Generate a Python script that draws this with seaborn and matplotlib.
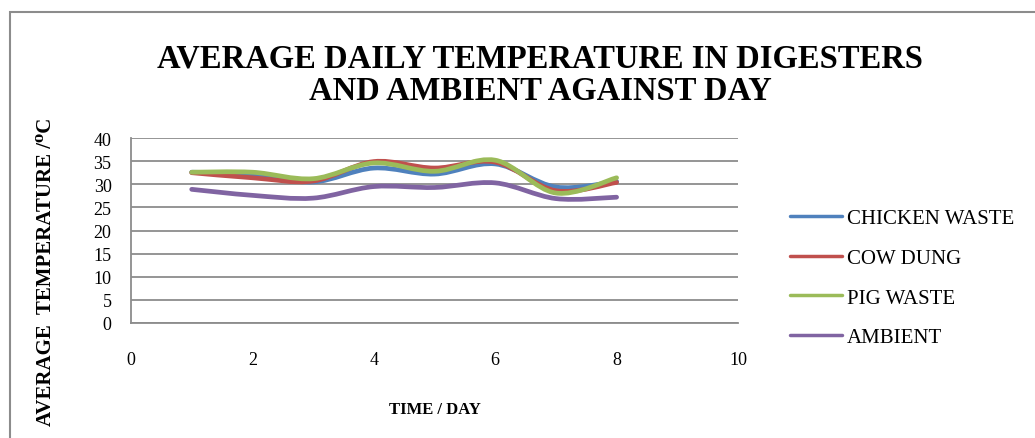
import numpy as np
import pandas as pd
import matplotlib
matplotlib.use("Agg")
import matplotlib.pyplot as plt
import seaborn as sns
from matplotlib.path import Path
from matplotlib.patches import PathPatch, Rectangle
from matplotlib.lines import Line2D

# data
days = [1, 2, 3, 4, 5, 6, 7, 8]
chicken_waste = [32.6, 32.2, 30.5, 33.5, 32.2, 34.4, 29.4, 30.6]
cow_dung = [32.5, 31.4, 30.7, 34.9, 33.5, 34.8, 28.6, 30.4]
pig_waste = [32.6, 32.6, 31.2, 34.6, 32.8, 35.2, 28.1, 31.4]
ambient = [28.9, 27.6, 27.0, 29.5, 29.3, 30.3, 26.9, 27.2]

series_names = ["CHICKEN WASTE", "COW DUNG", "PIG WASTE", "AMBIENT"]
series_values = [chicken_waste, cow_dung, pig_waste, ambient]
colors = ["#4F81BD", "#C0504D", "#9BBB59", "#8064A2"]

x_ticks = [0, 2, 4, 6, 8, 10]
y_ticks = [0, 5, 10, 15, 20, 25, 30, 35, 40]


def smooth_path(x, y):
    """Excel-style smoothed line: cubic bezier through the points."""
    x = np.asarray(x, float)
    y = np.asarray(y, float)
    n = len(x)
    verts = [(x[0], y[0])]
    codes = [Path.MOVETO]
    for i in range(n - 1):
        x0, y0 = (x[i - 1], y[i - 1]) if i > 0 else (x[i], y[i])
        x3, y3 = (x[i + 2], y[i + 2]) if i + 2 < n else (x[i + 1], y[i + 1])
        c1 = (x[i] + (x[i + 1] - x0) / 6, y[i] + (y[i + 1] - y0) / 6)
        c2 = (x[i + 1] - (x3 - x[i]) / 6, y[i + 1] - (y3 - y[i]) / 6)
        verts += [c1, c2, (x[i + 1], y[i + 1])]
        codes += [Path.CURVE4] * 3
    return Path(verts, codes)


sns.set_style("white")
plt.rcParams["font.family"] = ["Liberation Serif", "DejaVu Serif"]
plt.rcParams["text.color"] = "black"
plt.rcParams["axes.labelcolor"] = "black"

fig = plt.figure(figsize=(10.35, 4.39), dpi=100)
ax = fig.add_axes([131 / 1035, 1 - 324 / 439, (738 - 131) / 1035, (324 - 139) / 439])

# outer chart border (only top/left visible in the crop)
fig.patches.append(Rectangle((10 / 1035, -0.1), 1.2, 1 - 13 / 439 + 0.1,
                             transform=fig.transFigure, fill=False,
                             edgecolor="#8c8c8c", linewidth=1.5))

df = pd.DataFrame({"day": days})
for name, vals in zip(series_names, series_values):
    df[name] = vals

for name, color in zip(series_names, colors):
    patch = PathPatch(smooth_path(df["day"], df[name]), facecolor="none",
                      edgecolor=color, linewidth=3.4, capstyle="round",
                      joinstyle="round")
    ax.add_patch(patch)

ax.set_xlim(0, 10)
ax.set_ylim(0, 40)
ax.set_xticks(x_ticks)
ax.set_yticks(y_ticks)
ax.tick_params(axis="both", length=0, labelsize=13, colors="black")
ax.tick_params(axis="x", pad=20)
ax.tick_params(axis="y", pad=14)
ax.yaxis.grid(True, color="#8c8c8c", linewidth=1.3)
ax.xaxis.grid(False)
for side in ["top", "right"]:
    ax.spines[side].set_visible(False)
for side in ["left", "bottom"]:
    ax.spines[side].set_color("#8c8c8c")
    ax.spines[side].set_linewidth(1.3)

ax.set_xlabel("TIME / DAY", fontsize=12, fontweight="bold")
ax.xaxis.set_label_coords(0.5, -0.42)
ax.set_ylabel("AVERAGE  TEMPERATURE /\u2070C", fontsize=15, fontweight="bold")
ax.yaxis.set_label_coords(-0.124, 0.28)

fig.text(540 / 1035, 1 - 75 / 439, "AVERAGE DAILY TEMPERATURE IN DIGESTERS\nAND AMBIENT AGAINST DAY",
         ha="center", va="center", fontsize=23.5, fontweight="bold", linespacing=1.05)

handles = [Line2D([], [], color=c, linewidth=2.5) for c in colors]
fig.legend(handles, series_names, loc="center left", bbox_to_anchor=(771 / 1035, 1 - 279 / 439),
           frameon=False, fontsize=15, handlelength=2.5, handletextpad=0.24,
           labelspacing=0.97)

fig.savefig("out.png", dpi=100, facecolor="white")
